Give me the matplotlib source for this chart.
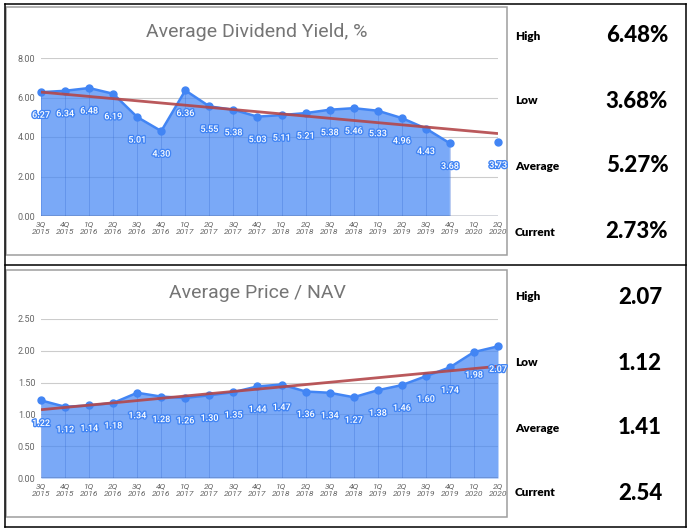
import numpy as np
import matplotlib
matplotlib.use('Agg')
import matplotlib.pyplot as plt
import matplotlib.patheffects as pe
from matplotlib.patches import Rectangle

# quarterly data, 3Q 2015 .. 2Q 2020
quarters = ['3Q\n2015', '4Q\n2015',
            '1Q\n2016', '2Q\n2016', '3Q\n2016', '4Q\n2016',
            '1Q\n2017', '2Q\n2017', '3Q\n2017', '4Q\n2017',
            '1Q\n2018', '2Q\n2018', '3Q\n2018', '4Q\n2018',
            '1Q\n2019', '2Q\n2019', '3Q\n2019', '4Q\n2019',
            '1Q\n2020', '2Q\n2020']
dividend_yield = [6.27, 6.34, 6.48, 6.19, 5.01, 4.30, 6.36, 5.55, 5.38, 5.03,
                  5.11, 5.21, 5.38, 5.46, 5.33, 4.96, 4.43, 3.68, np.nan, 3.73]
price_nav = [1.22, 1.12, 1.14, 1.18, 1.34, 1.28, 1.26, 1.30, 1.35, 1.44,
             1.47, 1.36, 1.34, 1.27, 1.38, 1.46, 1.60, 1.74, 1.98, 2.07]

stat_names = ['High', 'Low', 'Average', 'Current']
yield_stats = ['6.48%', '3.68%', '5.27%', '2.73%']
nav_stats = ['2.07', '1.12', '1.41', '2.54']

W, H = 690, 532
LINE = '#4285f4'
TREND = '#b3474a'
CHART_FONT = ['Roboto', 'DejaVu Sans']

fig = plt.figure(figsize=(W / 100, H / 100), dpi=100)

# full-page axes in pixel coords for the table frame and text
page = fig.add_axes([0, 0, 1, 1])
page.set_xlim(0, W)
page.set_ylim(H, 0)
page.axis('off')


def px_axes(x0, y0, x1, y1):
    return fig.add_axes([x0 / W, 1 - y1 / H, (x1 - x0) / W, (y1 - y0) / H])


def draw_chart(ax, values, ymax, step, title, title_y):
    vals = np.array(values, dtype=float)
    x = np.arange(len(vals))
    ok = ~np.isnan(vals)

    ax.set_facecolor('none')
    ax.set_xlim(0, len(vals) - 1)
    ax.set_ylim(0, ymax)
    yt = np.arange(0, ymax + step / 2, step)
    ax.set_yticks(yt)
    ax.set_yticklabels([f'{t:.2f}' for t in yt], family=CHART_FONT)
    ax.set_xticks(x)
    ax.set_xticklabels(quarters, family=CHART_FONT, style='italic',
                       linespacing=1.25)
    ax.tick_params(length=0, labelsize=6.5, colors='#666666')
    ax.tick_params(axis='x', pad=4, labelsize=6)
    ax.tick_params(axis='y', pad=4)
    for s in ax.spines.values():
        s.set_visible(False)
    ax.grid(axis='y', color='#cccccc', lw=0.8)
    ax.set_axisbelow(True)

    ax.fill_between(x, 0, vals, where=ok, color=LINE, alpha=0.7, lw=0, zorder=2)
    ax.vlines(x[ok], 0, vals[ok], color='#3b6fd6', alpha=0.35, lw=0.7, zorder=2)
    ax.plot(x, vals, color=LINE, lw=1.8, marker='o', ms=5, zorder=4,
            clip_on=False)
    ax.axhline(0, color='#3a4160', lw=1.0, zorder=3)

    # linear trendline over the available points
    k, b = np.polyfit(x[ok], vals[ok], 1)
    xx = np.array([0, len(vals) - 1])
    ax.plot(xx, k * xx + b, color=TREND, lw=2.0, alpha=0.9, zorder=5,
            solid_capstyle='butt')

    for i, v in zip(x[ok], vals[ok]):
        ax.annotate(f'{v:.2f}', (i, v), xytext=(0, -23),
                    textcoords='offset pixels', ha='center', va='center',
                    fontsize=6.5, color='white', family=CHART_FONT, zorder=6,
                    weight='medium',
                    path_effects=[pe.withStroke(linewidth=2, foreground=LINE)])

    page.text(257, title_y, title, ha='center', va='center', fontsize=14,
              color='#757575', family=CHART_FONT)


# table frame
for y in (3.5, 265, 527):
    page.plot([4.5, 686], [y, y], color='black', lw=1.1)
for xv in (4.5, 686):
    page.plot([xv, xv], [3.5, 527], color='black', lw=1.1)

# chart boxes
page.add_patch(Rectangle((6, 7), 501, 248, fill=False, ec='#9e9e9e', lw=1.1))
page.add_patch(Rectangle((6, 270), 501, 247, fill=False, ec='#9e9e9e', lw=1.1))

ax1 = px_axes(41, 58, 498, 216)
draw_chart(ax1, dividend_yield, 8, 2, 'Average Dividend Yield, %', 32)

ax2 = px_axes(41, 319, 498, 478)
draw_chart(ax2, price_nav, 2.5, 0.5, 'Average Price / NAV', 293)

# summary numbers on the right
top_rows = [36, 101, 166, 232]
bottom_rows = [297, 363, 428, 493]
for name, val, y in zip(stat_names, yield_stats, top_rows):
    page.text(515, y, name, ha='left', va='center', fontsize=8.5,
              weight='heavy', family='Lato', color='black')
    page.text(637, y, val, ha='center', va='center', fontsize=16,
              weight='black', family='Lato', color='black')
for name, val, y in zip(stat_names, nav_stats, bottom_rows):
    page.text(515, y, name, ha='left', va='center', fontsize=8.5,
              weight='heavy', family='Lato', color='black')
    page.text(640, y, val, ha='center', va='center', fontsize=16,
              weight='black', family='Lato', color='black')

fig.savefig('out.png', dpi=100, facecolor='white')
